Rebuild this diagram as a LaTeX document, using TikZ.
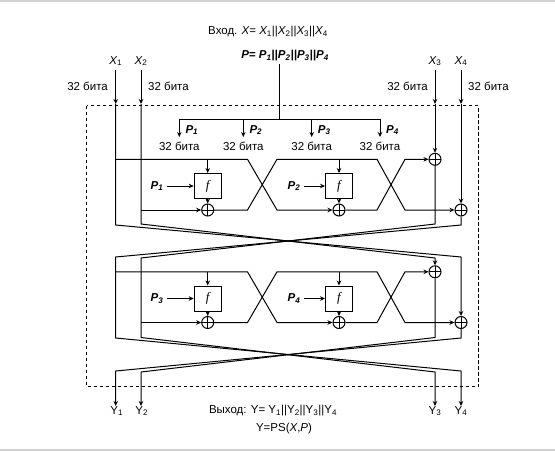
\documentclass[tikz,border=0pt]{standalone}
\usepackage{fontspec}
\setmainfont{Liberation Sans}
\newfontfamily\serifit{Liberation Serif}
\usetikzlibrary{arrows.meta}
\begin{document}
\begin{tikzpicture}[x=1pt,y=-1pt,
 wire/.style={line width=1pt},
 arr/.style={wire,-{Stealth[length=5pt,width=4.5pt]}},
 xorn/.style={circle,draw,line width=1pt,minimum size=12pt,inner sep=0pt,
   path picture={\draw[line width=1pt] (path picture bounding box.north)--(path picture bounding box.south)
   (path picture bounding box.west)--(path picture bounding box.east);}},
 fbox/.style={draw,line width=1pt,minimum width=27pt,minimum height=25pt,inner sep=0pt,
   font=\serifit\itshape\fontsize{13}{15}\selectfont},
 txt/.style={font=\fontsize{11.5}{13}\selectfont,inner sep=0pt},
 ptxt/.style={font=\fontsize{11.5}{13}\selectfont\bfseries\itshape,inner sep=0pt},
 frame/.style={line width=1.5pt,dash pattern=on 3.5pt off 2.5pt}
]
\useasboundingbox (0,0) rectangle (555,451);
\fill[black!18] (0,0) rectangle (555,2);
\fill[black!18] (0,449) rectangle (555,451);

% titles
\node[txt] (vx) at (268,32) {Вход. {\itshape X}= {\itshape X}\textsubscript{1}||{\itshape X}\textsubscript{2}||{\itshape X}\textsubscript{3}||{\itshape X}\textsubscript{4}};
\node[ptxt] (pp) at (285,56) {P= P\textsubscript{1}||P\textsubscript{2}||P\textsubscript{3}||P\textsubscript{4}};

% inputs
\foreach \n/\x in {1/115.7,2/141,3/435,4/461} {
  \node[txt] (lx\n) at (\x,61) {{\itshape X}\textsubscript{\n}};
  \coordinate (xe\n) at (\x,104);
  \draw[arr] (lx\n.south) ++(0,4) -- (xe\n);
}
\node[txt,anchor=east] (b1) at (108,86) {32 бита};
\node[txt,anchor=west] (b2) at (148,86) {32 бита};
\node[txt,anchor=east] (b3) at (428,86) {32 бита};
\node[txt,anchor=west] (b4) at (468,86) {32 бита};

% dashed frame
\draw[frame] (86.7,105.7) rectangle (478.5,386.7);

% key bus
\coordinate (pt) at (279.3,64);
\coordinate (pb) at (279.3,119.3);
\coordinate (bl) at (179.3,119.3);
\coordinate (br) at (380,119.3);
\draw[wire] (pt) -- (pb);
\draw[wire] (bl) -- (br);
\foreach \n/\x in {1/179.3,2/243.3,3/311.7,4/380} {
  \coordinate (pd\n) at (\x,119.3);
  \coordinate (pe\n) at (\x,137);
  \draw[arr] (pd\n) -- (pe\n);
  \node[ptxt,anchor=west] (pl\n) at (\x+6,130) {P\textsubscript{\n}};
  \node[txt] (pk\n) at (\x,146.5) {32 бита};
}

% rounds
\foreach \r/\d/\pa/\pb in {1/0/1/2,2/112.5/3/4} {
  \node[fbox] (fa\r) at (207.7,186+\d) {f};
  \node[fbox] (fb\r) at (339,186+\d) {f};
  \node[xorn] (oa\r) at (207.7,210+\d) {};
  \node[xorn] (ob\r) at (339,210+\d) {};
  \node[xorn] (oc\r) at (435,159.3+\d) {};
  \node[xorn] (od\r) at (461,210+\d) {};
  \node[ptxt] (pa\r) at (157,186+\d) {P\textsubscript{\pa}};
  \node[ptxt] (pb\r) at (294,186+\d) {P\textsubscript{\pb}};
  \draw[arr,shorten <=3pt] (pa\r.east) -- (fa\r.west);
  \draw[arr,shorten <=3pt] (pb\r.east) -- (fb\r.west);
  \coordinate (ta\r) at (207.7,159.3+\d);
  \coordinate (tb\r) at (339,159.3+\d);
  \coordinate (sa\r) at (115.7,159.3+\d);
  \coordinate (sb\r) at (141,210+\d);
  \draw[arr] (ta\r) -- (fa\r.north);
  \draw[arr] (tb\r) -- (fb\r.north);
  \draw[arr] (fa\r.south) -- (oa\r.north);
  \draw[arr] (fb\r.south) -- (ob\r.north);
  \draw[arr] (sa\r) -- (247.5,159.3+\d) -- (277,210+\d) -- (ob\r.west);
  \draw[arr] (sb\r) -- (oa\r.west);
  \draw[arr] (oa\r.east) -- (247.5,210+\d) -- (277,159.3+\d) -- (377,159.3+\d) -- (405,210+\d) -- (od\r.west);
  \draw[arr] (ob\r.east) -- (377,210+\d) -- (405,159.3+\d) -- (oc\r.west);
}

% outputs
\node[txt,anchor=north] (ly1) at (116.7,406) {Y\textsubscript{1}};
\node[txt,anchor=north] (ly2) at (141.7,406) {Y\textsubscript{2}};
\node[txt,anchor=north] (ly3) at (435,406) {Y\textsubscript{3}};
\node[txt,anchor=north] (ly4) at (461,406) {Y\textsubscript{4}};

% vertical lines and crossings
\draw[arr] (xe1) -- (115.7,225) -- (461,257) -- (od2.north);
\draw[arr] (xe2) -- (141,224) -- (435,258) -- (oc2.north);
\draw[arr] (xe3) -- (oc1.north);
\draw[arr] (xe4) -- (od1.north);
\draw[arr] (oc1.south) -- (435,224) -- (141,258) -- (141,337.5) -- (435,372) -- (ly3.north);
\draw[arr] (od1.south) -- (461,225) -- (115.7,257) -- (115.7,338) -- (461,371) -- (ly4.north);
\draw[arr] (oc2.south) -- (435,337.5) -- (141,372) -- (141,406);
\draw[arr] (od2.south) -- (461,338) -- (115.7,371) -- (115.7,406);

\node[txt] (out) at (273,411) {Выход: Y= Y\textsubscript{1}||Y\textsubscript{2}||Y\textsubscript{3}||Y\textsubscript{4}};
\node[txt] (ps) at (284,429) {Y=PS({\itshape X},{\itshape P})};
\end{tikzpicture}
\end{document}
